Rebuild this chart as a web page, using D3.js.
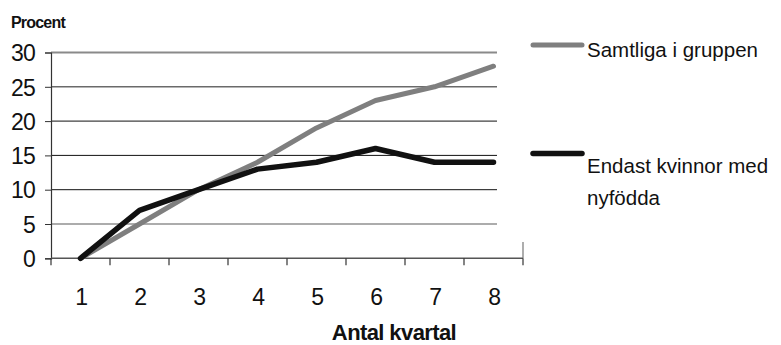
<!DOCTYPE html>
<html><head><meta charset="utf-8">
<script src="https://cdn.jsdelivr.net/npm/d3@7"></script>
<style>
body{margin:0;background:#fff;}
svg{display:block;font-family:"Liberation Sans",Arial,sans-serif;}
</style></head>
<body>
<svg id="c" width="781" height="345"></svg>
<script>
const categories = ["1","2","3","4","5","6","7","8"];
const samtliga = [0,5,10,14,19,23,25,28];
const endast = [0,7,10,13,14,16,14,14];
const yTicks = [0,5,10,15,20,25,30];
const seriesNames = ["Samtliga i gruppen", "Endast kvinnor med nyfödda"];

const svg = d3.select("#c");
const pLeft = 51, pRight = 523, pTop = 52.5, pBottom = 258.3;
const x = d3.scaleBand().domain(categories).range([pLeft, pRight]);
const y = d3.scaleLinear().domain([0, 30]).range([pBottom, pTop]);
const cx = d => x(d) + x.bandwidth() / 2;

// gridlines
const gridColor = {30:"#8a8a8a",25:"#6a6a6a",20:"#111",15:"#111",10:"#111",5:"#5a5a5a"};
const gridW = {30:2.2,25:1.6,20:1,15:1,10:1,5:1.2};
svg.append("g").selectAll("line").data(yTicks.filter(v => v > 0)).join("line")
  .attr("x1", pLeft).attr("x2", 497)
  .attr("y1", d => y(d)).attr("y2", d => y(d))
  .attr("stroke", d => gridColor[d]).attr("stroke-width", d => gridW[d]);

// y axis
const yAxis = svg.append("g").attr("transform", `translate(${pLeft},0)`)
  .call(d3.axisLeft(y).tickValues(yTicks).tickSize(6).tickPadding(10));
yAxis.select(".domain").attr("stroke", "#333").attr("stroke-width", 1.2);
yAxis.selectAll(".tick line").attr("stroke", "#333");
yAxis.selectAll("text").attr("font-size", 23).attr("fill", "#111")
  .attr("font-family", "Liberation Sans, Arial, sans-serif").attr("letter-spacing", -0.8)
  .attr("dy", "0.36em");

// x axis
const xa = svg.append("g");
xa.append("line").attr("x1", pLeft).attr("x2", pRight).attr("y1", pBottom).attr("y2", pBottom)
  .attr("stroke", "#555").attr("stroke-width", 1.6);
const edges = categories.map(d => x(d)).concat([pRight]);
xa.selectAll("line.tk").data(edges).join("line").attr("class","tk")
  .attr("x1", d => d).attr("x2", d => d).attr("y1", pBottom).attr("y2", pBottom + 7)
  .attr("stroke", "#333").attr("stroke-width", 1.2);
xa.append("line").attr("x1", pRight).attr("x2", pRight).attr("y1", 242).attr("y2", pBottom)
  .attr("stroke", "#777").attr("stroke-width", 1.2);
xa.selectAll("text").data(categories).join("text")
  .attr("x", d => cx(d) + 1).attr("y", 305).attr("text-anchor", "middle")
  .attr("font-size", 23).attr("fill", "#111").attr("letter-spacing", -0.5).text(d => d);

// lines
const line = d3.line().x((d, i) => cx(categories[i])).y(d => y(d));
svg.append("path").datum(samtliga).attr("d", line).attr("fill", "none")
  .attr("stroke", "#7f7f7f").attr("stroke-width", 5).attr("stroke-linejoin", "round").attr("stroke-linecap", "round");
svg.append("path").datum(endast).attr("d", line).attr("fill", "none")
  .attr("stroke", "#111").attr("stroke-width", 5.5).attr("stroke-linejoin", "round").attr("stroke-linecap", "round");

// titles
svg.append("text").attr("x", 11).attr("y", 28).attr("font-size", 16).attr("font-weight", "bold")
  .attr("letter-spacing", -0.8).attr("fill", "#111").text("Procent");
svg.append("text").attr("x", 394).attr("y", 340).attr("text-anchor", "middle")
  .attr("font-size", 22).attr("font-weight", "bold").attr("letter-spacing", -0.6)
  .attr("fill", "#111").text("Antal kvartal");

// legend
const lg = svg.append("g");
lg.append("line").attr("x1", 533).attr("x2", 582).attr("y1", 45).attr("y2", 45)
  .attr("stroke", "#7f7f7f").attr("stroke-width", 5).attr("stroke-linecap", "round");
lg.append("text").attr("x", 587).attr("y", 56.5).attr("font-size", 20.5)
  .attr("fill", "#111").text(seriesNames[0]);
lg.append("line").attr("x1", 533).attr("x2", 582).attr("y1", 153.5).attr("y2", 153.5)
  .attr("stroke", "#111").attr("stroke-width", 5.5).attr("stroke-linecap", "round");
const t2 = lg.append("text").attr("x", 587).attr("y", 173.3).attr("font-size", 20.5)
  .attr("fill", "#111");
t2.append("tspan").attr("x", 587).text("Endast kvinnor med");
t2.append("tspan").attr("x", 587).attr("dy", 31.7).text("nyfödda");
</script>
</body></html>
